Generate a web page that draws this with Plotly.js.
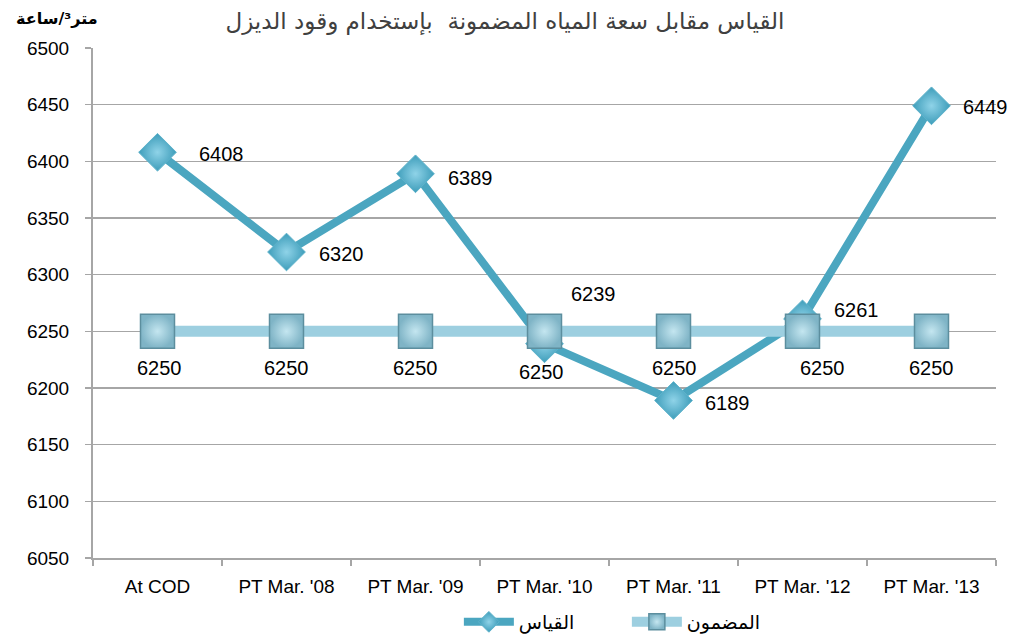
<!DOCTYPE html>
<html>
<head>
<meta charset="utf-8">
<script src="https://cdn.plot.ly/plotly-3.0.1.min.js"></script>
<style>html,body{margin:0;padding:0;background:#fff;}#chart{width:1016px;height:641px;}</style>
</head>
<body>
<div id="chart"></div>
<script>
// ---- data ----
const categories = ["At COD", "PT Mar. '08", "PT Mar. '09", "PT Mar. '10", "PT Mar. '11", "PT Mar. '12", "PT Mar. '13"];
const measured = [6408, 6320, 6389, 6239, 6189, 6261, 6449];
const guaranteed = [6250, 6250, 6250, 6250, 6250, 6250, 6250];
const measuredName = "القياس";
const guaranteedName = "المضمون";
const chartTitle = "القياس مقابل سعة المياه المضمونة  بإستخدام وقود الديزل";
const unitLabel = "متر³/ساعة";

// label offsets (pixels) – styling only
const measuredShift = [[64,-2],[55,-2],[55,-4],[49,50],[54,-3],[54,9],[54,-1]];
const guaranteedShift = [[2,-37],[0,-37],[0,-37],[-3,-41],[1,-37],[20,-37],[0,-37]];

const numFont = {family: "Liberation Sans, Arial, sans-serif", size: 20, color: "#000"};
const tickFont = {family: "Liberation Sans, Arial, sans-serif", size: 19, color: "#000"};

const traces = [
  {
    x: categories, y: measured, name: measuredName, type: "scatter", mode: "lines+markers",
    line: {color: "#4BA6C0", width: 8},
    marker: {symbol: "diamond", size: 29, color: "#3E9DBA",
             gradient: {type: "radial", color: "#8FD3E8"},
             line: {color: "#5FB3CB", width: 1}}
  },
  {
    x: categories, y: guaranteed, name: guaranteedName, type: "scatter", mode: "lines+markers",
    line: {color: "#9DCFE0", width: 11},
    marker: {symbol: "square", size: 34, color: "#7FB4C6",
             gradient: {type: "radial", color: "#C4E6F0"},
             line: {color: "#5C8E9E", width: 1.5}}
  }
];

const annotations = [];
measured.forEach((v, i) => annotations.push({
  x: categories[i], y: v, xref: "x", yref: "y", text: String(v), showarrow: false,
  xanchor: "center", yanchor: "middle", xshift: measuredShift[i][0], yshift: measuredShift[i][1], font: numFont
}));
guaranteed.forEach((v, i) => annotations.push({
  x: categories[i], y: v, xref: "x", yref: "y", text: String(v), showarrow: false,
  xanchor: "center", yanchor: "middle", xshift: guaranteedShift[i][0], yshift: guaranteedShift[i][1], font: numFont
}));
annotations.push({
  xref: "paper", yref: "paper", x: -0.04, y: 1.0, yshift: 30, xanchor: "center", yanchor: "middle",
  text: "<b>" + unitLabel + "</b>", showarrow: false,
  font: {family: "DejaVu Sans, Noto Sans, sans-serif", size: 16, color: "#000"}
});

const layout = {
  width: 1016, height: 641,
  margin: {l: 93, r: 20, t: 48, b: 83, autoexpand: false},
  paper_bgcolor: "#fff", plot_bgcolor: "#fff",
  title: {text: chartTitle, x: 0.497, xanchor: "center", y: 0.968, yanchor: "middle",
          font: {family: "DejaVu Sans, Noto Sans, sans-serif", size: 23, color: "#404040"}},
  xaxis: {type: "category", range: [-0.5, 6.5], tickson: "boundaries", ticks: "outside", ticklen: 6,
          tickcolor: "#A6A6A6", tickwidth: 1.5, showgrid: false, showline: true, linecolor: "#A6A6A6", linewidth: 2,
          tickfont: tickFont, ticklabelstandoff: 10, fixedrange: true, automargin: false},
  yaxis: {range: [6050, 6500], dtick: 50, tick0: 6050, ticks: "outside", ticklen: 6, tickcolor: "#A6A6A6", tickwidth: 1.5,
          showgrid: true, gridcolor: "#A6A6A6", gridwidth: 1.5, showline: true, linecolor: "#A6A6A6", linewidth: 2,
          zeroline: false, tickfont: tickFont, ticklabelstandoff: 12, fixedrange: true, automargin: false},
  showlegend: true,
  legend: {orientation: "h", xref: "container", yref: "container", x: 0.617, xanchor: "center", y: 0.0, yanchor: "bottom",
           font: {family: "DejaVu Sans, Noto Sans, sans-serif", size: 19, color: "#000"}, itemwidth: 50,
           entrywidth: 103, traceorder: "normal"},
  annotations: annotations
};

Plotly.newPlot("chart", traces, layout, {displayModeBar: false, staticPlot: true});
</script>
</body>
</html>
